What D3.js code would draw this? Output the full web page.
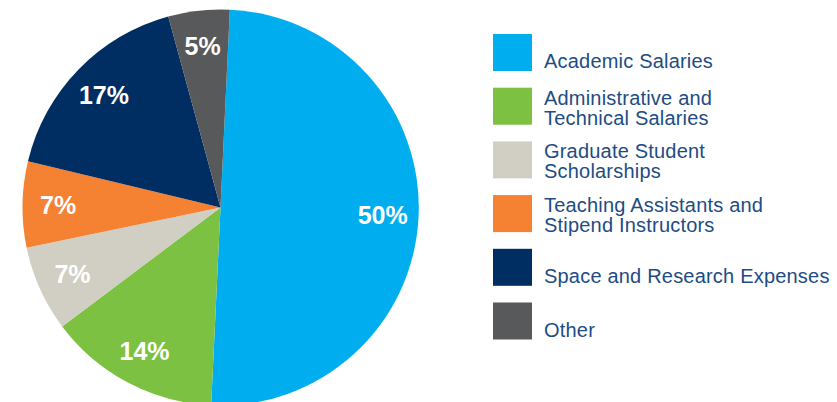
<!DOCTYPE html>
<html>
<head>
<meta charset="utf-8">
<script src="https://cdn.jsdelivr.net/npm/d3@7"></script>
<style>
  html, body { margin: 0; padding: 0; background: #ffffff; }
  svg { display: block; }
</style>
</head>
<body>
<svg id="chart" width="837" height="402"></svg>
<script>
// Expense categories, their shares (%) and slice colours
const categories = [
  "Academic Salaries",
  "Administrative and Technical Salaries",
  "Graduate Student Scholarships",
  "Teaching Assistants and Stipend Instructors",
  "Space and Research Expenses",
  "Other"
];
const legendLines = [
  ["Academic Salaries"],
  ["Administrative and", "Technical Salaries"],
  ["Graduate Student", "Scholarships"],
  ["Teaching Assistants and", "Stipend Instructors"],
  ["Space and Research Expenses"],
  ["Other"]
];
const values = [50, 14, 7, 7, 17, 5];
const colors = ["#00aeef", "#7dc143", "#d1cfc3", "#f58133", "#002d62", "#58595b"];

const svg = d3.select("#chart");
const cx = 220.5, cy = 207.5, R = 198;

const color = d3.scaleOrdinal().domain(categories).range(colors);

const data = categories.map((c, i) => ({ category: c, value: values[i], lines: legendLines[i] }));

// Pie starts slightly clockwise of 12 o'clock
const startOffset = 2.7 * Math.PI / 180;
const pie = d3.pie()
  .sort(null)
  .value(d => d.value)
  .startAngle(startOffset)
  .endAngle(startOffset + 2 * Math.PI);

const arcs = pie(data);
const arc = d3.arc().innerRadius(0).outerRadius(R);
const labelArc = d3.arc().innerRadius(R * 0.82).outerRadius(R * 0.82);

const g = svg.append("g").attr("transform", `translate(${cx},${cy})`);

g.selectAll("path.slice")
  .data(arcs)
  .join("path")
  .attr("class", "slice")
  .attr("d", arc)
  .attr("fill", d => color(d.data.category));

g.selectAll("text.pct")
  .data(arcs)
  .join("text")
  .attr("class", "pct")
  .attr("transform", d => `translate(${labelArc.centroid(d)})`)
  .attr("text-anchor", "middle")
  .attr("dy", "0.36em")
  .attr("fill", "#ffffff")
  .attr("font-family", "'Liberation Sans', Arial, Helvetica, sans-serif")
  .attr("font-weight", "bold")
  .attr("font-size", 25)
  .text(d => d.data.value + "%");

// Legend
const legendY = d3.scaleLinear().domain([0, categories.length - 1]).range([34, 302.5]);
const boxW = 39, boxH = 37, lineH = 20;
const legend = svg.append("g").attr("transform", "translate(493,0)");

const items = legend.selectAll("g.item")
  .data(data)
  .join("g")
  .attr("class", "item")
  .attr("transform", (d, i) => `translate(0,${legendY(i)})`);

items.append("rect")
  .attr("width", boxW)
  .attr("height", boxH)
  .attr("fill", d => color(d.category));

items.append("text")
  .attr("x", 51)
  .attr("fill", "#1e4c84")
  .attr("font-family", "'Liberation Sans', Arial, Helvetica, sans-serif")
  .attr("font-size", 20)
  .attr("letter-spacing", "0.2px")
  .each(function(d) {
    const t = d3.select(this);
    const n = d.lines.length;
    d.lines.forEach((line, j) => {
      const base = n === 1 ? boxH - 3 : boxH - (n - 1 - j) * lineH;
      t.append("tspan").attr("x", 51).attr("y", base).text(line);
    });
  });
</script>
</body>
</html>
